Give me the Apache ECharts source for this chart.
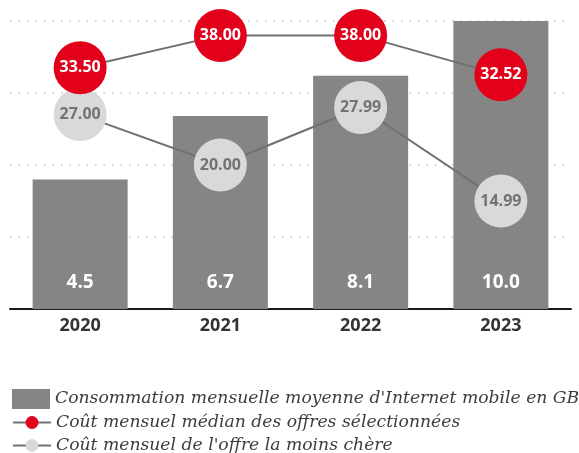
<!DOCTYPE html>
<html>
<head>
<meta charset="utf-8">
<script src="https://cdn.jsdelivr.net/npm/echarts@6/dist/echarts.min.js"></script>
<style>
  html, body { margin: 0; padding: 0; background: #fff; }
  #mobileCostView { width: 579px; height: 453px; }
</style>
</head>
<body>
<div id="mobileCostView"></div>
<script>
// années
const years = ['2020', '2021', '2022', '2023']
// consommation mensuelle moyenne (GB)
const consoGB = [4.5, 6.7, 8.1, 10.0]
// coût mensuel médian
const coutMedian = [33.50, 38.00, 38.00, 32.52]
// coût de l'offre la moins chère
const coutMin = [27.00, 20.00, 27.99, 14.99]

const nameBar = "Consommation mensuelle moyenne d'Internet mobile en GB"
const nameMedian = 'Coût mensuel médian des offres sélectionnées'
const nameMin = "Coût mensuel de l'offre la moins chère"

const legendText = {
  fontFamily: 'DejaVu Serif',
  fontStyle: 'italic',
  fontSize: 17.2,
  color: '#3d3d3d'
}

// une légende par ligne
function legendRow(top, name, itemHeight, icon) {
  return {
    orient: 'vertical',
    left: 7,
    top: top,
    itemWidth: 38,
    itemHeight: itemHeight,
    textStyle: legendText,
    data: [icon ? { name: name, icon: icon } : name]
  }
}

let chart = echarts.init(document.getElementById('mobileCostView'))
let option = {
  animation: false,
  grid: {
    left: 10,
    right: 8,
    top: 21,
    bottom: 144
  },
  legend: [
    legendRow(384, nameBar, 20, 'rect'),
    legendRow(409, nameMedian, 16),
    legendRow(432, nameMin, 16)
  ],
  xAxis: {
    type: 'category',
    data: years,
    axisLine: { lineStyle: { color: '#1a1a1a', width: 2 } },
    axisTick: { show: false },
    axisLabel: {
      margin: 8,
      fontFamily: 'Open Sans',
      fontWeight: 'bold',
      fontSize: 18,
      color: '#333'
    }
  },
  yAxis: [
    {
      type: 'value',
      min: 0,
      max: 10,
      interval: 2.5,
      axisLabel: { show: false },
      axisLine: { show: false },
      axisTick: { show: false },
      splitLine: {
        lineStyle: { color: '#c4c4c4', width: 1.5, type: [1.5, 7] }
      }
    },
    {
      type: 'value',
      min: 0,
      max: 40,
      interval: 10,
      axisLabel: { show: false },
      axisLine: { show: false },
      axisTick: { show: false },
      splitLine: { show: false }
    }
  ],
  series: [
    {
      name: nameBar,
      type: 'bar',
      data: consoGB,
      barWidth: 95,
      itemStyle: { color: '#858585' },
      label: {
        show: true,
        position: 'insideBottom',
        distance: 17,
        formatter: p => p.value.toFixed(1),
        fontFamily: 'Open Sans',
        fontWeight: 'bold',
        fontSize: 19,
        color: '#fff'
      }
    },
    {
      name: nameMin,
      type: 'line',
      yAxisIndex: 1,
      data: coutMin,
      symbol: 'circle',
      symbolSize: 53,
      z: 3,
      lineStyle: { color: '#707070', width: 2 },
      itemStyle: { color: '#d9d9d9' },
      label: {
        show: true,
        position: 'inside',
        formatter: p => p.value.toFixed(2),
        fontFamily: 'Open Sans',
        fontWeight: 'bold',
        fontSize: 16,
        color: '#737373'
      }
    },
    {
      name: nameMedian,
      type: 'line',
      yAxisIndex: 1,
      data: coutMedian,
      symbol: 'circle',
      symbolSize: 53,
      z: 4,
      lineStyle: { color: '#707070', width: 2 },
      itemStyle: { color: '#e2001a' },
      label: {
        show: true,
        position: 'inside',
        formatter: p => p.value.toFixed(2),
        fontFamily: 'Open Sans',
        fontWeight: 'bold',
        fontSize: 16,
        color: '#fff'
      }
    }
  ]
}

option && chart.setOption(option)
window.addEventListener('resize', function() {
  chart.resize()
})
</script>
</body>
</html>
